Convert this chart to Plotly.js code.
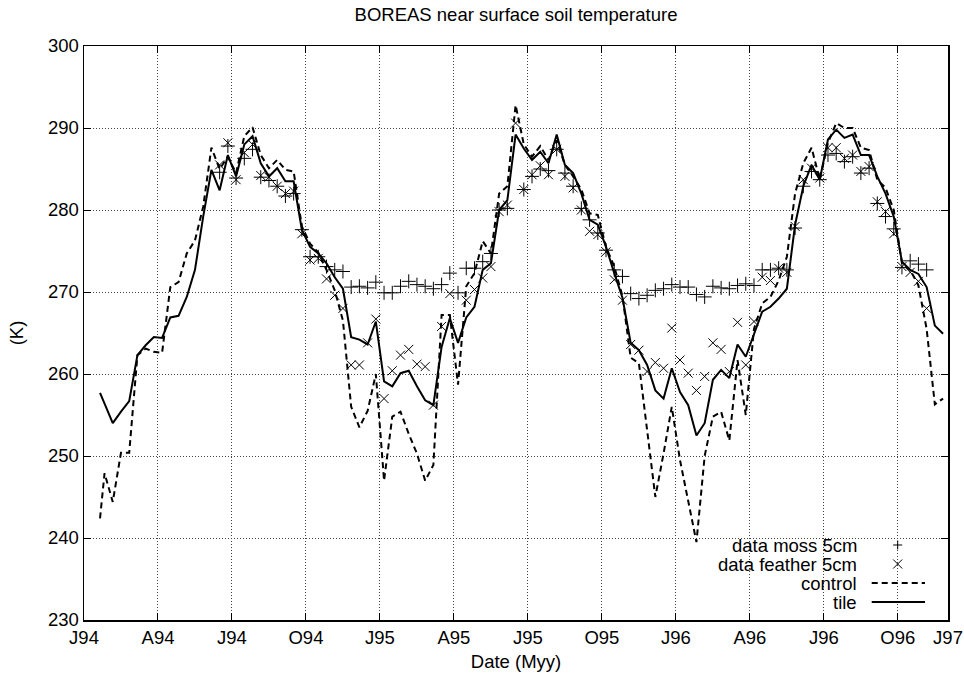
<!DOCTYPE html>
<html>
<head>
<meta charset="utf-8">
<script src="https://cdn.plot.ly/plotly-3.0.1.min.js"></script>
<style>html,body{margin:0;padding:0;background:#fff;}#chart{width:964px;height:681px;}</style>
</head>
<body>
<div id="chart"></div>
<script>
// x unit: 10-day period index (0 = first decad of Jan 1994)
const modelX = [1.45, 2, 3, 4, 5, 6, 7, 8, 9, 10,
  11, 12, 13, 14, 15, 16, 17, 18, 19, 20,
  21, 22, 23, 24, 25, 26, 27, 28, 29, 30,
  31, 32, 33, 34, 35, 36, 37, 38, 39, 40,
  41, 42, 43, 44, 45, 46, 47, 48, 49, 50,
  51, 52, 53, 54, 55, 56, 57, 58, 59, 60,
  61, 62, 63, 64, 65, 66, 67, 68, 69, 70,
  71, 72, 73, 74, 75, 76, 77, 78, 79, 80,
  81, 82, 83, 84, 85, 86, 87, 88, 89, 90,
  91, 92, 93, 94, 95, 96, 97, 98, 99, 100,
  101, 102, 103, 104];

const tileT = [257.7, 256.4, 254.0, 255.4, 256.7, 262.3, 263.5, 264.5, 264.4, 266.9,
  267.1, 269.4, 272.7, 279.2, 284.9, 282.4, 286.7, 284.1, 288.0, 289.0,
  285.7, 284.1, 285.1, 283.5, 283.5, 277.6, 275.5, 274.7, 273.5, 271.8,
  270.4, 264.5, 264.2, 263.6, 266.4, 259.1, 258.5, 260.1, 260.4, 258.5,
  256.8, 256.2, 263.3, 266.8, 263.8, 266.9, 268.2, 272.7, 273.5, 280.0,
  281.2, 289.2, 287.5, 286.1, 287.1, 285.7, 289.2, 285.5, 284.5, 282.0,
  278.8, 278.2, 275.5, 272.3, 269.3, 263.8, 262.9, 261.1, 258.0, 257.0,
  260.7, 257.8, 256.2, 252.5, 254.0, 259.3, 260.5, 259.5, 263.6, 262.1,
  264.8, 267.6, 268.2, 269.2, 270.4, 278.2, 282.9, 285.5, 283.7, 288.6,
  289.8, 288.8, 289.2, 286.7, 286.7, 284.1, 282.0, 279.2, 273.7, 272.7,
  272.2, 270.6, 265.9, 264.9];

const controlT = [242.4, 247.9, 244.4, 250.4, 250.4, 262.3, 263.1, 262.7, 262.6, 270.6,
  271.2, 274.7, 276.3, 280.4, 287.6, 285.0, 286.5, 284.5, 289.0, 290.1,
  286.7, 285.1, 286.1, 284.9, 284.7, 278.0, 275.9, 274.8, 272.7, 270.2,
  266.5, 256.0, 253.5, 255.5, 260.0, 247.0, 254.8, 255.4, 252.7, 250.3,
  247.0, 248.9, 267.2, 267.2, 258.7, 270.7, 272.3, 276.2, 274.7, 282.0,
  282.9, 292.8, 288.0, 286.5, 287.8, 286.1, 288.5, 285.5, 284.1, 282.5,
  279.6, 279.4, 275.5, 273.1, 269.5, 262.0, 261.3, 253.0, 245.0, 250.3,
  256.0, 249.5, 244.5, 239.5, 250.0, 254.8, 255.4, 251.9, 261.7, 255.0,
  265.5, 268.6, 269.4, 271.4, 274.3, 282.0, 285.7, 287.6, 283.7, 288.2,
  290.6, 290.0, 290.0, 287.6, 287.3, 283.7, 282.7, 280.0, 273.5, 272.7,
  270.8, 265.5, 256.3, 257.0];

const mossX = [16, 17, 18, 19, 20, 21, 22, 23, 24, 25,
  26, 27, 28, 29, 30, 31, 32, 33, 34, 35,
  36, 37, 38, 39, 40, 41, 42, 43, 44, 45,
  46, 47, 48, 49, 50, 51, 53, 54, 55, 56,
  57, 58, 59, 60, 61, 62, 63, 64, 65, 66,
  67, 68, 69, 70, 71, 72, 73, 74, 75, 76,
  77, 78, 79, 80, 81, 82, 83, 84, 85, 86,
  87, 88, 89, 90, 91, 92, 93, 94, 95, 96,
  97, 98, 99, 100, 101, 102];
const mossT = [284.6, 287.8, 283.9, 286.3, 287.4, 284.0, 283.6, 282.9, 281.7, 282.0,
  277.6, 274.3, 274.3, 273.1, 272.7, 272.5, 270.6, 270.7, 270.5, 271.2,
  269.9, 269.9, 270.7, 271.3, 270.9, 270.7, 270.4, 270.9, 272.3, 269.9,
  272.9, 272.9, 273.7, 274.7, 280.0, 280.2, 282.5, 284.1, 285.0, 284.8,
  287.4, 284.5, 282.9, 280.2, 278.8, 277.2, 275.1, 272.7, 271.9, 269.8,
  269.2, 269.6, 270.2, 270.4, 270.9, 270.6, 270.6, 269.7, 269.4, 270.7,
  270.5, 270.4, 270.8, 271.0, 270.8, 272.7, 272.7, 272.9, 272.7, 277.8,
  282.9, 284.7, 283.7, 286.7, 286.9, 285.9, 286.5, 284.5, 285.1, 280.8,
  279.2, 277.7, 273.0, 273.8, 273.4, 272.7];

const featherX = [16, 17, 18, 19, 20, 21, 22, 23, 24, 25,
  26, 27, 28, 29, 30, 31, 32, 33, 34, 35,
  36, 37, 38, 39, 40, 41, 42, 43, 44, 46,
  47, 48, 49, 50, 51, 52, 53, 54, 55, 56,
  57, 58, 59, 60, 61, 62, 63, 64, 65, 66,
  67, 68, 69, 70, 71, 72, 73, 74, 75, 76,
  77, 78, 79, 80, 81, 82, 83, 84, 85, 86,
  87, 88, 89, 90, 91, 92, 93, 94, 95, 96,
  97, 98, 99, 100, 101, 102];
const featherT = [285.5, 288.2, 283.7, 287.0, 288.0, 284.2, 284.0, 282.9, 282.0, 282.3,
  277.1, 273.9, 274.1, 271.6, 269.6, 268.0, 261.1, 261.1, 263.8, 266.7,
  257.0, 260.4, 262.3, 263.0, 261.2, 260.9, 256.2, 265.8, 269.8, 269.0,
  270.3, 271.7, 273.1, 279.8, 280.6, 290.6, 282.5, 284.3, 285.4, 284.3,
  287.4, 284.1, 282.7, 280.0, 277.4, 277.0, 274.9, 271.5, 269.0, 263.6,
  262.9, 260.3, 261.4, 260.7, 265.6, 261.7, 260.1, 258.0, 259.7, 263.8,
  263.0, 260.3, 266.3, 261.1, 266.4, 271.8, 271.4, 272.9, 272.4, 278.0,
  283.7, 285.1, 283.9, 287.6, 287.6, 286.3, 286.7, 284.7, 285.3, 281.0,
  279.8, 277.1, 273.1, 272.4, 271.3, 268.0];

const tickPos = [-0.5, 8.5, 17.5, 26.5, 35.5, 44.5, 53.5, 62.5, 71.5, 80.5, 89.5, 98.5, 104.6];
const tickText = ['J94', 'A94', 'J94', 'O94', 'J95', 'A95', 'J95', 'O95', 'J96', 'A96', 'J96', 'O96', 'J97'];
const legendNames = ['data moss 5cm', 'data feather 5cm', 'control', 'tile'];

const FONT = 'Liberation Sans, Arial, Helvetica, sans-serif';
const FS = 18.5;

const traces = [
  {x: mossX, y: mossT, name: legendNames[0], type: 'scatter', mode: 'markers',
   marker: {symbol: 'cross-thin-open', size: 10, color: '#000', line: {color: '#000', width: 1}}},
  {x: featherX, y: featherT, name: legendNames[1], type: 'scatter', mode: 'markers',
   marker: {symbol: 'x-thin-open', size: 9, color: '#000', line: {color: '#000', width: 1}}},
  {x: modelX, y: controlT, name: legendNames[2], type: 'scatter', mode: 'lines',
   line: {color: '#000', width: 2, dash: '6px,4px'}},
  {x: modelX, y: tileT, name: legendNames[3], type: 'scatter', mode: 'lines',
   line: {color: '#000', width: 2}}
];

// legend geometry (paper units)
const px = v => (v - 84) / 864;
const py = v => (620 - v) / 574;
const rowsY = [545, 564, 583, 602];
const sx = 897.7, hs = 4.5;
const shapes = [
  {type: 'rect', xref: 'paper', yref: 'paper', x0: px(675.5), x1: 1, y0: 0, y1: py(537.5),
   fillcolor: '#fff', line: {width: 0}, layer: 'between'},
  {type: 'line', xref: 'paper', yref: 'paper', x0: px(sx - hs), x1: px(sx + hs), y0: py(rowsY[0]), y1: py(rowsY[0]), line: {color: '#000', width: 1}},
  {type: 'line', xref: 'paper', yref: 'paper', x0: px(sx), x1: px(sx), y0: py(rowsY[0] - hs), y1: py(rowsY[0] + hs), line: {color: '#000', width: 1}},
  {type: 'line', xref: 'paper', yref: 'paper', x0: px(sx - hs), x1: px(sx + hs), y0: py(rowsY[1] - hs), y1: py(rowsY[1] + hs), line: {color: '#000', width: 1}},
  {type: 'line', xref: 'paper', yref: 'paper', x0: px(sx - hs), x1: px(sx + hs), y0: py(rowsY[1] + hs), y1: py(rowsY[1] - hs), line: {color: '#000', width: 1}},
  {type: 'line', xref: 'paper', yref: 'paper', x0: px(871.7), x1: px(925), y0: py(rowsY[2]), y1: py(rowsY[2]), line: {color: '#000', width: 2, dash: '6px,4px'}},
  {type: 'line', xref: 'paper', yref: 'paper', x0: px(871.7), x1: px(925), y0: py(rowsY[3]), y1: py(rowsY[3]), line: {color: '#000', width: 2}}
];
const annotations = legendNames.map((t, i) => ({
  text: t, xref: 'paper', yref: 'paper', x: px(859), y: py(rowsY[i]),
  xanchor: 'right', yanchor: 'middle', showarrow: false,
  font: {family: FONT, size: FS, color: '#000'}
}));

const axisCommon = {
  showline: true, linecolor: '#000', linewidth: 1.5, mirror: 'ticks',
  ticks: 'inside', ticklen: 7, tickcolor: '#000', tickwidth: 1,
  showgrid: true, gridcolor: '#444', gridwidth: 1, griddash: '1px,2px',
  zeroline: false, tickfont: {family: FONT, size: FS, color: '#000'}
};

const layout = {
  width: 964, height: 681,
  margin: {l: 84, r: 16, t: 46, b: 61},
  paper_bgcolor: '#fff', plot_bgcolor: '#fff',
  showlegend: false,
  font: {family: FONT, size: FS, color: '#000'},
  title: {text: 'BOREAS near surface soil temperature', x: 0.5, xref: 'paper',
          y: 1 - 15 / 681, yref: 'container', yanchor: 'middle',
          font: {family: FONT, size: FS, color: '#000'}},
  xaxis: Object.assign({}, axisCommon, {
    range: [-0.5, 104.6], tickmode: 'array', tickvals: tickPos, ticktext: tickText,
    title: {text: 'Date (Myy)', font: {family: FONT, size: FS, color: '#000'}, standoff: 8}
  }),
  yaxis: Object.assign({}, axisCommon, {
    range: [230, 300], tickmode: 'array', tickvals: [230, 240, 250, 260, 270, 280, 290, 300],
    title: {text: '(K)', font: {family: FONT, size: FS, color: '#000'}, standoff: 19}
  }),
  shapes: shapes,
  annotations: annotations
};

Plotly.newPlot('chart', traces, layout, {displayModeBar: false, staticPlot: true});
</script>
</body>
</html>
